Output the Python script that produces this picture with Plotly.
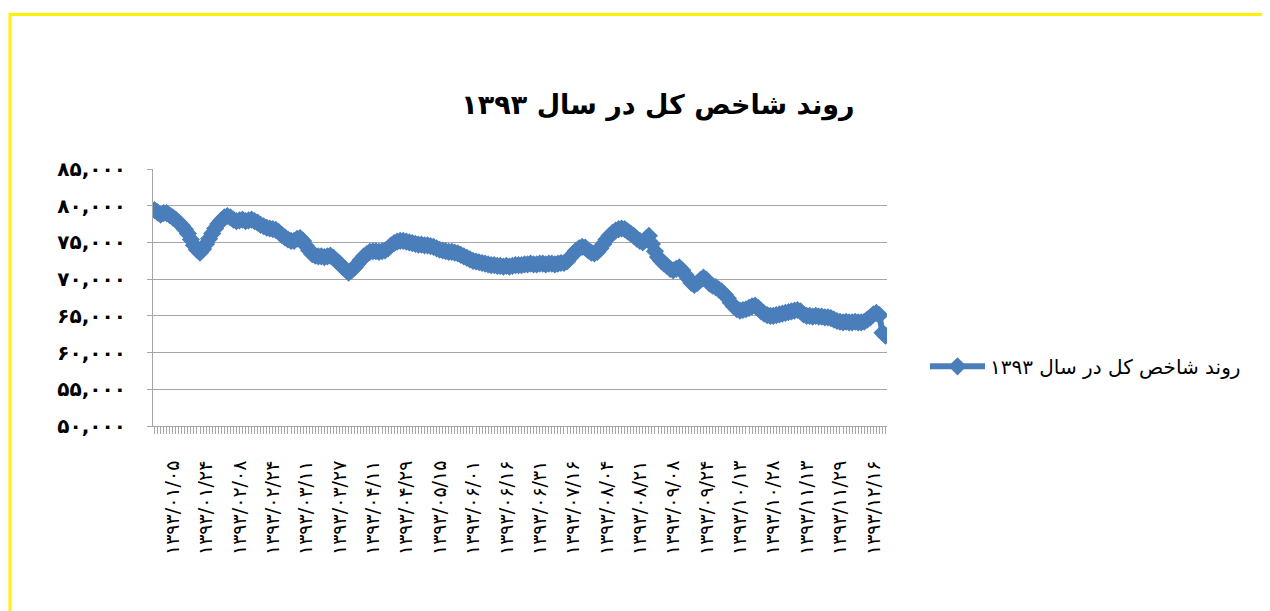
import plotly.graph_objects as go

title_text = "روند شاخص کل در سال ۱۳۹۳"
series_name = "روند شاخص کل در سال ۱۳۹۳"

# Daily index values (one per trading day)
values = [
    79400, 79100, 78800, 79000, 79000, 78700, 78400, 78100, 77700, 77300,
    76800, 76200, 75400, 74600, 74000, 73600, 74100, 74800, 75500, 76200,
    76900, 77500, 78000, 78400, 78600, 78400, 78100, 77900, 78000, 78100,
    77900, 78000, 78100, 77900, 77700, 77400, 77200, 77000, 76900, 76800,
    76700, 76400, 76000, 75700, 75400, 75200, 75200, 75500, 75600, 75200,
    74500, 73900, 73400, 73200, 73100, 73100, 73000, 73100, 73200, 72900,
    72500, 72100, 71700, 71300, 70900, 71200, 71600, 72100, 72600, 73100,
    73400, 73700, 73800, 73800, 73700, 73800, 73900, 74200, 74600, 74900,
    75100, 75200, 75200, 75100, 75000, 74900, 74800, 74700, 74700, 74600,
    74600, 74500, 74400, 74200, 74000, 73900, 73800, 73700, 73700, 73600,
    73500, 73300, 73100, 72900, 72700, 72500, 72400, 72300, 72200, 72100,
    72000, 71900, 71900, 71800, 71800, 71700, 71800, 71700, 71800, 71900,
    71900, 71900, 72000, 72000, 72100, 72000, 72000, 72100, 72100, 72000,
    72100, 72100, 72000, 72100, 72200, 72200, 72400, 72900, 73400, 73900,
    74200, 74400, 74300, 73900, 73600, 73500, 73700, 74200, 74800, 75400,
    75900, 76300, 76600, 76800, 76900, 76800, 76500, 76200, 75900, 75500,
    75200, 75000, 75500, 75900, 74800, 73800, 73000, 72500, 72100, 71800,
    71400, 71200, 71400, 71600, 71200, 70600, 70100, 69500, 69200, 69500,
    69900, 70200, 69900, 69400, 69100, 68900, 68600, 68300, 67900, 67400,
    66800, 66300, 65900, 65700, 65800, 65900, 66100, 66300, 66400, 66100,
    65600, 65300, 65100, 65000, 65000, 65100, 65200, 65300, 65400, 65500,
    65600, 65700, 65800, 65600, 65200, 65000, 65000, 64900, 65000, 64900,
    64900, 64800, 64800, 64700, 64500, 64300, 64200, 64100, 64200, 64100,
    64100, 64200, 64100, 64100, 64200, 64500, 64800, 65200, 65400, 65100,
    62700, 62300,
]

# Date labels shown under the axis (every 11th trading day)
tick_labels = [
    "۱۳۹۳/۰۱/۰۵", "۱۳۹۳/۰۱/۲۴", "۱۳۹۳/۰۲/۰۸", "۱۳۹۳/۰۲/۲۴", "۱۳۹۳/۰۳/۱۱",
    "۱۳۹۳/۰۳/۲۷", "۱۳۹۳/۰۴/۱۱", "۱۳۹۳/۰۴/۲۹", "۱۳۹۳/۰۵/۱۵", "۱۳۹۳/۰۶/۰۱",
    "۱۳۹۳/۰۶/۱۶", "۱۳۹۳/۰۶/۳۱", "۱۳۹۳/۰۷/۱۶", "۱۳۹۳/۰۸/۰۴", "۱۳۹۳/۰۸/۲۱",
    "۱۳۹۳/۰۹/۰۸", "۱۳۹۳/۰۹/۲۴", "۱۳۹۳/۱۰/۱۳", "۱۳۹۳/۱۰/۲۸", "۱۳۹۳/۱۱/۱۳",
    "۱۳۹۳/۱۱/۲۹", "۱۳۹۳/۱۲/۱۶",
]
label_first = 6
label_step = 11

y_ticks = [50000, 55000, 60000, 65000, 70000, 75000, 80000, 85000]
y_tick_text = ["۵۰,۰۰۰", "۵۵,۰۰۰", "۶۰,۰۰۰", "۶۵,۰۰۰", "۷۰,۰۰۰", "۷۵,۰۰۰", "۸۰,۰۰۰", "۸۵,۰۰۰"]

n = len(values)
x = list(range(n))
ticktext = [""] * n
for k, lab in enumerate(tick_labels):
    idx = label_first + k * label_step
    if idx < n:
        ticktext[idx] = lab

FONT = "DejaVu Sans"
GRID = "#A6A6A6"
BLUE = "#4A7EBB"

fig = go.Figure()
fig.add_trace(go.Scatter(
    x=x, y=values, mode="lines+markers", name=series_name,
    line=dict(color=BLUE, width=6),
    marker=dict(symbol="diamond", size=14, color=BLUE),
))

W, H = 1270, 611
OFF = 8  # page body margin
L, R, T, B = 153 - OFF, 887 - OFF, 168.5 - OFF, 425.7 - OFF

fig.update_layout(
    width=W, height=H,
    margin=dict(l=L, r=W - R, t=T, b=H - B, autoexpand=False),
    paper_bgcolor="white", plot_bgcolor="white",
    font=dict(family=FONT, color="black"),
    title=dict(text="<b>" + title_text + "</b>", x=(658 - OFF) / W, xanchor="center",
               y=1 - (105 - OFF) / H, yanchor="middle", font=dict(size=27, family=FONT)),
    showlegend=True,
    legend=dict(x=(925 - OFF - L) / (R - L), y=(B - (366 - OFF)) / (B - T),
                xanchor="left", yanchor="middle",
                font=dict(size=20, family=FONT), itemwidth=55, bgcolor="rgba(0,0,0,0)"),
    xaxis=dict(range=[-0.5, n - 0.5], tickmode="array", tickvals=x, ticktext=ticktext,
               tickangle=-90, ticks="outside", ticklen=7, tickcolor=GRID, tickwidth=1,
               showline=True, linecolor=GRID, linewidth=1, showgrid=False, zeroline=False,
               tickfont=dict(size=19, family=FONT), ticklabelstandoff=19),
    yaxis=dict(range=[50000, 85000], tickmode="array", tickvals=y_ticks,
               ticktext=["<b>" + t + "</b>" for t in y_tick_text],
               ticks="outside", ticklen=5, tickcolor=GRID, showline=True, linecolor=GRID,
               linewidth=1, showgrid=True, gridcolor=GRID, gridwidth=1, zeroline=False,
               tickfont=dict(size=20, family=FONT), ticklabelstandoff=17),
)

# yellow frame around the whole chart
pw, ph = R - L, B - T
fig.add_shape(type="rect", xref="paper", yref="paper",
              x0=(10 - OFF - L) / pw, x1=(1300 - L) / pw,
              y0=(B - 700) / ph, y1=(B - (14 - OFF)) / ph,
              line=dict(color="#FFF200", width=3), fillcolor="rgba(0,0,0,0)", layer="below")

fig.write_html("out.html")
